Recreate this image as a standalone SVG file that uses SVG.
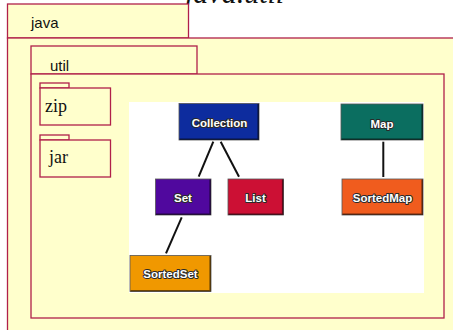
<svg xmlns="http://www.w3.org/2000/svg" width="453" height="330" viewBox="0 0 453 330">
<style>
.pkg{fill:#FFFFCC;stroke:#B0204A;stroke-width:1.3}
.lbl{font-family:"Liberation Sans",Arial,sans-serif;font-size:15px;fill:#111}
.ser{font-family:"Liberation Serif","Times New Roman",serif;font-size:18px;fill:#111}
.box{stroke:#555;stroke-width:0.8}
.bev{fill:none;stroke:#000;stroke-opacity:0.55;stroke-width:1.6}
.bt{font-family:"Liberation Sans",Arial,sans-serif;font-size:11.5px;font-weight:bold;fill:#fff;stroke:#2a2a2a;stroke-width:2;paint-order:stroke;stroke-linejoin:round;text-anchor:middle}
.con{stroke:#111;stroke-width:2;fill:none}
</style>
<rect width="453" height="330" fill="#fff"/>
<text x="185" y="3" font-family="'Liberation Serif','Times New Roman',serif" font-style="italic" font-size="30" fill="#111">java.util</text>
<g id="java">
<rect class="pkg" x="7.5" y="4" width="181" height="34"/>
<rect class="pkg" x="7.5" y="38" width="460" height="300"/>
<text class="lbl" x="31" y="28">java</text>
</g>
<g id="util">
<rect class="pkg" x="31" y="46" width="166" height="28"/>
<rect class="pkg" x="31" y="74" width="413" height="244"/>
<text class="lbl" x="50" y="71">util</text>
</g>
<g id="zip">
<rect class="pkg" x="40" y="83" width="29" height="5"/>
<rect class="pkg" x="40" y="88" width="70.5" height="37"/>
<text class="ser" x="45" y="112">zip</text>
</g>
<g id="jar">
<rect class="pkg" x="40" y="135" width="29" height="5"/>
<rect class="pkg" x="40" y="140" width="70.5" height="37"/>
<text class="ser" x="49" y="163">jar</text>
</g>
<rect x="129" y="102" width="295" height="191" fill="#fff"/>
<g id="connectors">
<line class="con" x1="213.3" y1="141.7" x2="198.7" y2="176.7"/>
<line class="con" x1="220.7" y1="141.7" x2="239" y2="176.7"/>
<line class="con" x1="383.3" y1="141.7" x2="383.3" y2="177"/>
<line class="con" x1="181.7" y1="217.3" x2="166" y2="253.3"/>
</g>
<g id="Collection">
<rect class="box" x="179" y="103.5" width="80" height="36.5" fill="#0D2C9E"/>
<path class="bev" d="M179.5 139.2H258.2V104"/>
<text class="bt" x="219.5" y="127">Collection</text>
</g>
<g id="Map">
<rect class="box" x="341" y="104" width="82" height="36" fill="#0B6E60"/>
<path class="bev" d="M341.5 139.2H422.2V104.5"/>
<text class="bt" x="382" y="127.5">Map</text>
</g>
<g id="Set">
<rect class="box" x="155.5" y="179" width="55.5" height="36" fill="#50089E"/>
<path class="bev" d="M156 214.2H210.2V179.5"/>
<text class="bt" x="183" y="202">Set</text>
</g>
<g id="List">
<rect class="box" x="228" y="179" width="55.5" height="36" fill="#CC1034"/>
<path class="bev" d="M228.5 214.2H282.7V179.5"/>
<text class="bt" x="255.5" y="202">List</text>
</g>
<g id="SortedMap">
<rect class="box" x="342" y="179" width="81" height="36" fill="#F05C1E"/>
<path class="bev" d="M342.5 214.2H422.2V179.5"/>
<text class="bt" x="382.5" y="202">SortedMap</text>
</g>
<g id="SortedSet">
<rect class="box" x="130" y="255.5" width="81" height="36" fill="#F09800"/>
<path class="bev" d="M130.5 290.7H210.2V256"/>
<text class="bt" x="170.5" y="278">SortedSet</text>
</g>
</svg>
